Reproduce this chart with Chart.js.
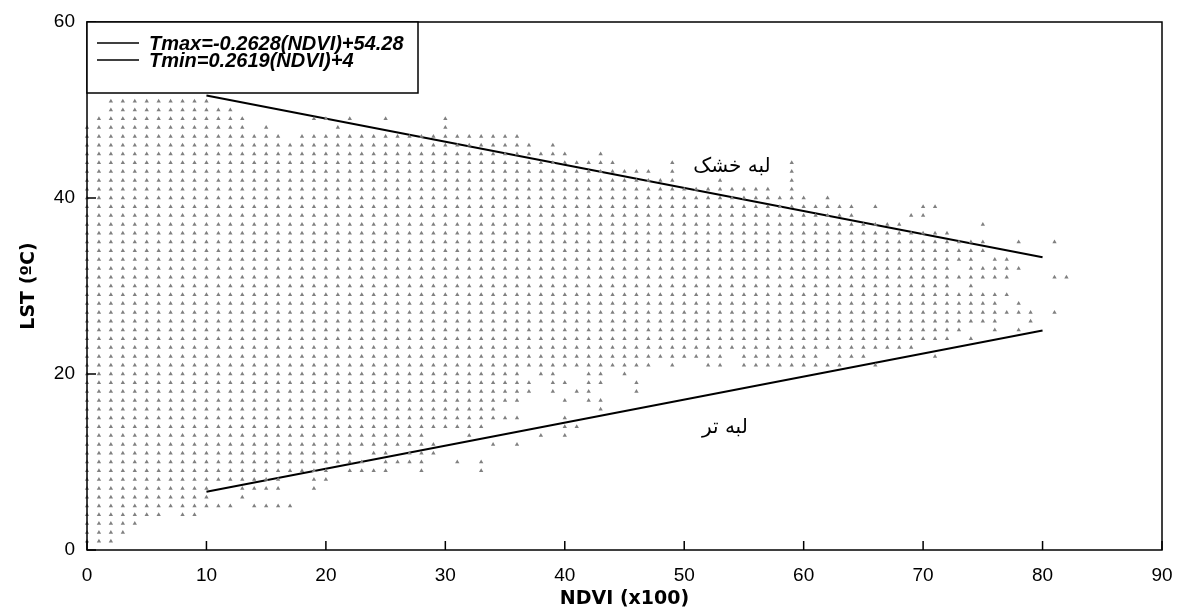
<!DOCTYPE html>
<html>
<head>
<meta charset="utf-8">
<script src="https://cdn.jsdelivr.net/npm/chart.js@4.4.1/dist/chart.umd.min.js"></script>
<style>
  html, body { margin: 0; padding: 0; background: #fff; }
</style>
</head>
<body>
<canvas id="chart" width="1184" height="615"></canvas>
<script>
'use strict';

// ─── Data ────────────────────────────────────────────────────────────────────
// Axis ticks
const ndviTicks = [0, 10, 20, 30, 40, 50, 60, 70, 80, 90];
const lstTicks  = [0, 20, 40, 60];

// Dot cloud: one entry per LST row (°C), with the NDVI runs [from, to] where
// a dot is present on that row (single dots as [n]).
const cloudRows = [
  [51, [[2, 10]]],
  [50, [[2, 12]]],
  [49, [[1, 13], [19, 20], [22], [25], [30]]],
  [48, [[0, 13], [15], [21], [30]]],
  [47, [[0, 16], [18, 36]]],
  [46, [[0, 37], [39]]],
  [45, [[0, 40], [43]]],
  [44, [[0, 44], [49], [59]]],
  [43, [[0, 47], [49], [59]]],
  [42, [[0, 49], [53], [59]]],
  [41, [[0, 57], [59]]],
  [40, [[0, 60], [62]]],
  [39, [[0, 64], [66], [70, 71]]],
  [38, [[0, 64], [69, 70]]],
  [37, [[0, 68], [75]]],
  [36, [[0, 72]]],
  [35, [[0, 75], [78], [81]]],
  [34, [[0, 75]]],
  [33, [[0, 74], [76, 77]]],
  [32, [[0, 72], [74, 78]]],
  [31, [[0, 77], [81, 82]]],
  [30, [[0, 72], [74]]],
  [29, [[0, 77]]],
  [28, [[0, 76], [78]]],
  [27, [[0, 79], [81]]],
  [26, [[0, 76], [79]]],
  [25, [[0, 73], [76], [78]]],
  [24, [[0, 72], [74]]],
  [23, [[0, 69]]],
  [22, [[0, 53], [55, 61], [63, 65], [71]]],
  [21, [[0, 47], [49], [52, 53], [55, 63], [66]]],
  [20, [[0, 36], [38, 39], [42, 43], [45]]],
  [19, [[0, 37], [39, 40], [42, 43], [46]]],
  [18, [[0, 37], [39], [41, 42], [46]]],
  [17, [[0, 36], [40], [42, 43]]],
  [16, [[0, 34], [43]]],
  [15, [[0, 36], [40]]],
  [14, [[0, 33], [40, 41]]],
  [13, [[0, 28], [32], [38], [40]]],
  [12, [[0, 29], [34], [36]]],
  [11, [[0, 22], [24, 25], [27, 29]]],
  [10, [[0, 23], [25, 28], [31], [33]]],
  [9,  [[0, 20], [22, 25], [28], [33]]],
  [8,  [[0, 16], [19, 20]]],
  [7,  [[0, 10], [13, 16], [19]]],
  [6,  [[0, 10], [13]]],
  [5,  [[0, 12], [14, 17]]],
  [4,  [[0, 6], [8, 9]]],
  [3,  [[0, 4]]],
  [2,  [[0, 3]]],
  [1,  [[0, 2]]],
];

// Dry edge / wet edge fitted lines (end points)
const edgeNdvi = [10, 80];
const dryEdge  = [51.65, 33.26];
const wetEdge  = [6.62, 24.95];
const dryLabel = 'Tmax=-0.2628(NDVI)+54.28';
const wetLabel = 'Tmin=0.2619(NDVI)+4';

// Persian notes inside the plot: [text, ndvi, lst]
const notes = [
  ['لبه خشک', 54.0, 43.5],
  ['لبه تر',  53.4, 13.9],
];

// ─── Build the datasets ──────────────────────────────────────────────────────
const cloudPoints = [];
for (const [lst, runs] of cloudRows) {
  for (const run of runs) {
    const to = run.length > 1 ? run[1] : run[0];
    for (let n = run[0]; n <= to; n++) cloudPoints.push({ x: n, y: lst });
  }
}

const toXY = (xs, ys) => xs.map((x, i) => ({ x, y: ys[i] }));

// ─── Frame, inward ticks, boxed legend and notes ─────────────────────────────
const framePlugin = {
  id: 'framePlugin',
  afterDatasetsDraw(chart) {
    const { ctx, chartArea: a, scales: { x, y } } = chart;
    ctx.save();
    ctx.strokeStyle = '#000';
    ctx.lineWidth = 1.5;

    // tick marks point into the plot
    ctx.beginPath();
    for (const t of x.ticks) {
      const px = x.getPixelForValue(t.value);
      ctx.moveTo(px, a.bottom);
      ctx.lineTo(px, a.bottom - 9);
    }
    for (const t of y.ticks) {
      const py = y.getPixelForValue(t.value);
      ctx.moveTo(a.left, py);
      ctx.lineTo(a.left + 9, py);
    }
    ctx.stroke();
    ctx.strokeRect(a.left, a.top, a.right - a.left, a.bottom - a.top);

    // legend box in the top left corner
    ctx.fillStyle = '#fff';
    ctx.fillRect(a.left, a.top, 331, 71);
    ctx.strokeRect(a.left, a.top, 331, 71);
    ctx.font = 'italic bold 20px "Liberation Sans", Arial, sans-serif';
    ctx.textBaseline = 'middle';
    ctx.fillStyle = '#000';
    chart.data.datasets.slice(1).forEach((ds, i) => {
      const ly = a.top + 21 + i * 17;
      ctx.beginPath();
      ctx.moveTo(a.left + 10, ly);
      ctx.lineTo(a.left + 52, ly);
      ctx.stroke();
      ctx.fillText(ds.label, a.left + 62, ly + 1);
    });

    // Persian notes
    ctx.font = '20px "DejaVu Sans", sans-serif';
    ctx.textAlign = 'center';
    ctx.direction = 'rtl';
    for (const [text, nx, ny] of notes) {
      ctx.fillText(text, x.getPixelForValue(nx), y.getPixelForValue(ny));
    }
    ctx.restore();
  },
};

const tickFont  = { family: '"Liberation Sans", Arial, sans-serif', size: 19 };
const titleFont = { family: '"DejaVu Sans", sans-serif', size: 19, weight: 'bold' };

new Chart(document.getElementById('chart'), {
  type: 'scatter',
  data: {
    datasets: [
      {
        label: 'cloud',
        data: cloudPoints,
        pointStyle: 'triangle',
        pointRadius: 2.5,
        pointBorderWidth: 0,
        pointBackgroundColor: '#808080',
        pointBorderColor: '#808080',
        clip: false,
      },
      {
        label: dryLabel,
        type: 'line',
        data: toXY(edgeNdvi, dryEdge),
        borderColor: '#000',
        borderWidth: 2,
        pointRadius: 0,
      },
      {
        label: wetLabel,
        type: 'line',
        data: toXY(edgeNdvi, wetEdge),
        borderColor: '#000',
        borderWidth: 2,
        pointRadius: 0,
      },
    ],
  },
  options: {
    responsive: false,
    animation: false,
    layout: { padding: { top: 22, right: 22, left: 0, bottom: 0 } },
    plugins: {
      legend:  { display: false },
      tooltip: { enabled: false },
    },
    scales: {
      x: {
        type: 'linear',
        min: 0,
        max: 90,
        afterBuildTicks: (s) => { s.ticks = ndviTicks.map(v => ({ value: v })); },
        afterFit: (s) => { s.height = 65; },
        grid: { display: false },
        border: { display: false },
        ticks: { color: '#000', font: tickFont, padding: 6, maxRotation: 0 },
        title: { display: true, text: 'NDVI (x100)', color: '#000', font: titleFont, padding: { top: 0, bottom: 5 } },
      },
      y: {
        type: 'linear',
        min: 0,
        max: 60,
        afterBuildTicks: (s) => { s.ticks = lstTicks.map(v => ({ value: v })); },
        afterFit: (s) => { s.width = 87; },
        grid: { display: false },
        border: { display: false },
        ticks: { color: '#000', font: tickFont, padding: 4 },
        title: { display: true, text: 'LST (ºC)', color: '#000', font: titleFont, padding: { top: 18, bottom: 0 } },
      },
    },
  },
  plugins: [framePlugin],
});
</script>
</body>
</html>
